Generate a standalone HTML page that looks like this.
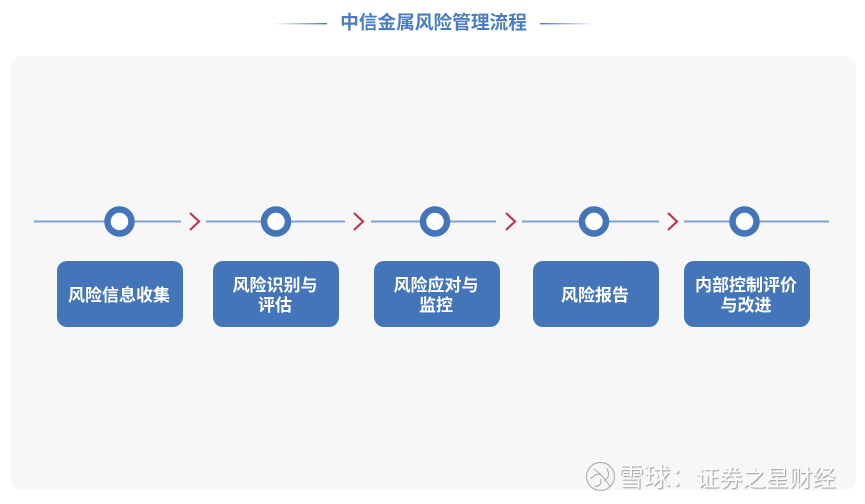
<!DOCTYPE html>
<html lang="zh">
<head>
<meta charset="utf-8">
<style>
html,body{margin:0;padding:0;background:#fff}
#c{position:relative;width:865px;height:504px;overflow:hidden;background:#fff;font-family:"Liberation Sans","Noto Sans CJK SC",sans-serif;filter:blur(.35px)}
#p{position:absolute;left:11px;top:56px;width:845px;height:434px;background:#f7f7f8;border-radius:11px}
.b{position:absolute;top:261px;width:126px;height:66px;box-sizing:border-box;background:#4475b8;border-radius:10px;color:#fff;font-size:17px;font-weight:700;line-height:20px;display:flex;align-items:center;justify-content:center;text-align:center;padding:3px 2px 0 0;white-space:nowrap}
#t{position:absolute;left:327px;width:213px;top:10px;text-align:center;color:#4a7cc0;font-size:18.7px;font-weight:700;line-height:26px;white-space:nowrap}
svg{position:absolute;left:0;top:0}
#w{position:absolute;left:618px;top:460px;font-size:26px;line-height:34px;color:#fbfbfb;white-space:nowrap;text-shadow:1px 1px 1px #9c9c9c}
#w span{font-size:23px;letter-spacing:.3px}
</style>
</head>
<body>
<div id="c">
<div id="p"></div>
<svg width="865" height="504" viewBox="0 0 865 504">
<defs>
<linearGradient id="g1" x1="0" x2="1" y1="0" y2="0"><stop offset="0" stop-color="#4475b8" stop-opacity="0"/><stop offset="1" stop-color="#4475b8"/></linearGradient>
<linearGradient id="g2" x1="0" x2="1" y1="0" y2="0"><stop offset="0" stop-color="#4475b8"/><stop offset="1" stop-color="#4475b8" stop-opacity="0"/></linearGradient>
</defs>
<rect x="274" y="23" width="53" height="1.4" fill="url(#g1)"/>
<rect x="540" y="23" width="54" height="1.4" fill="url(#g2)"/>
<g stroke="#7fa2cf" stroke-width="2" fill="none">
<path d="M34 221.5H181M206 221.5H345M371 221.5H496M522 221.5H659M684 221.5H829"/>
</g>
<g fill="#fff" stroke="#4475b8" stroke-width="6.5">
<circle cx="119.5" cy="221.5" r="12"/>
<circle cx="276" cy="221.5" r="12"/>
<circle cx="435" cy="221.5" r="12"/>
<circle cx="594" cy="221.5" r="12"/>
<circle cx="744.5" cy="221.5" r="12"/>
</g>
<g fill="none" stroke="#b8394f" stroke-width="2.2">
<path d="M190 213L199 221.5L190 230"/>
<path d="M354 213L363 221.5L354 230"/>
<path d="M506 213L515 221.5L506 230"/>
<path d="M668 213L677 221.5L668 230"/>
</g>
<g fill="none" stroke="#f4f4f4" stroke-width="2.4">
<circle cx="600" cy="476" r="13"/>
<path d="M593 468C600 472 606 480 610 486M590 478C594 474 597 472 600 474M600 478C602 483 598 486 594 485M606 467C609 472 609 476 604 480"/>
</g>
<g fill="none" stroke="#a8a8a8" stroke-width="1">
<circle cx="600.5" cy="476.5" r="14"/>
<path d="M593.5 469C600.5 473 606.5 481 610.5 487M590.5 479C594.5 475 597.5 473 600.5 475M600.5 479C602.5 484 598.5 487 594.5 486M606.5 468C609.5 473 609.5 477 604.5 481"/>
</g>
</svg>
<div id="t">中信金属风险管理流程</div>
<div class="b" style="left:57px">风险信息收集</div>
<div class="b" style="left:213px">风险识别与<br>评估</div>
<div class="b" style="left:374px">风险应对与<br>监控</div>
<div class="b" style="left:533px">风险报告</div>
<div class="b" style="left:684px">内部控制评价<br>与改进</div>
<div id="w">雪球：<span>证券之星财经</span></div>
</div>
</body>
</html>
